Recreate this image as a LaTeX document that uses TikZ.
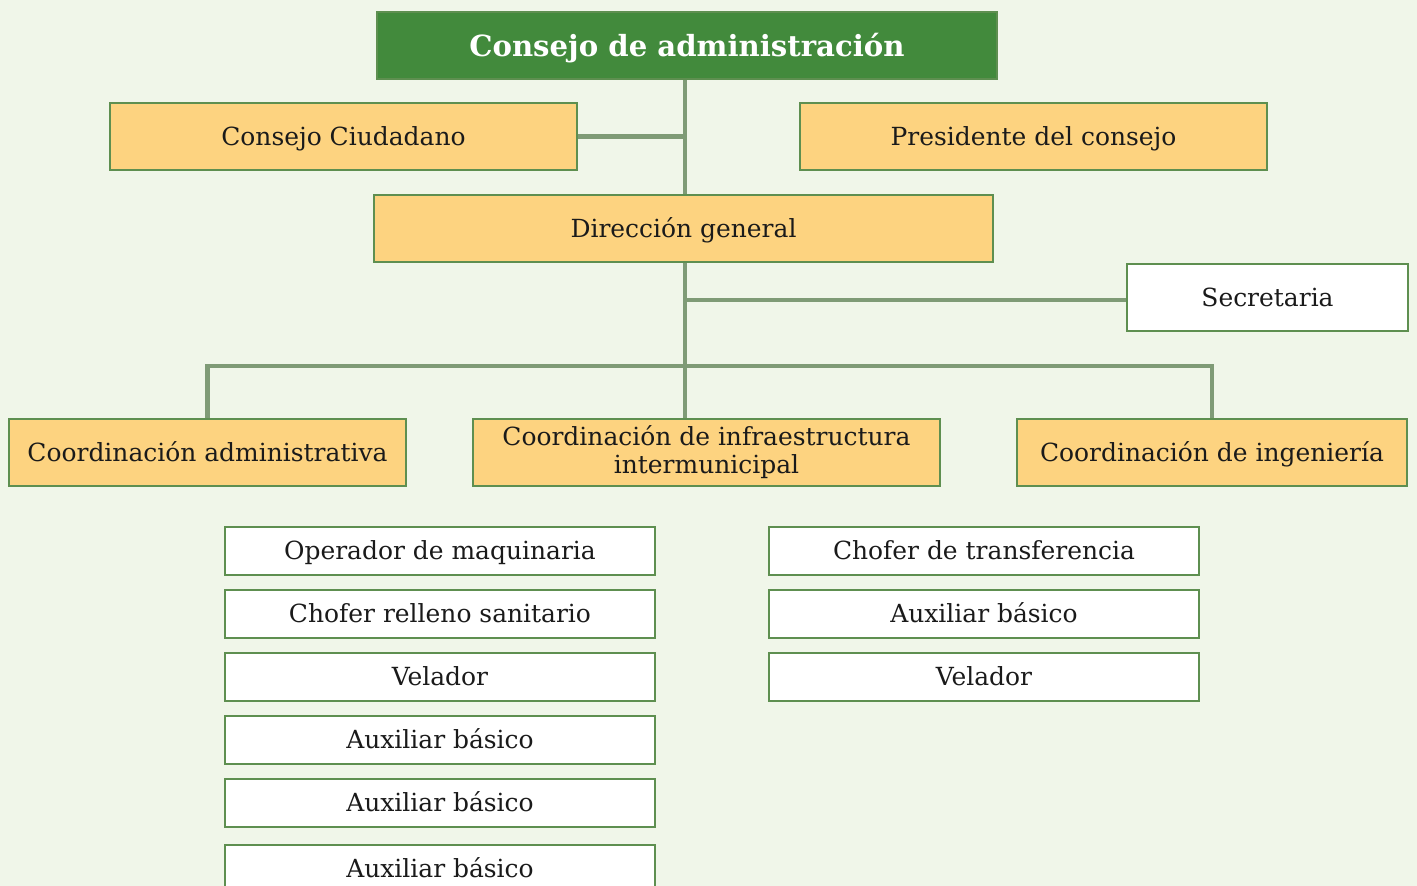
\documentclass[tikz,border=0pt]{standalone}
\usepackage{fontspec}
\setmainfont{DejaVu Serif}
\definecolor{fondo}{HTML}{F0F6E9}
\definecolor{verde}{HTML}{428A3C}
\definecolor{borde}{HTML}{5E8F50}
\definecolor{linea}{HTML}{7F9B76}
\definecolor{amarillo}{HTML}{FDD380}
\definecolor{texto}{HTML}{1A1A1A}
\begin{document}
\begin{tikzpicture}[x=0.02cm, y=-0.02cm,
    renglon/.style ={text height=13pt, text depth=2.8pt},
    consejo/.style ={draw=borde, fill=verde, text=white, line width=0.8pt, minimum height=1.34cm, text height=15pt, text depth=3pt, font=\fontsize{16.6}{19}\selectfont\bfseries},
    area/.style ={draw=borde, fill=amarillo, text=texto, line width=0.8pt, minimum height=1.34cm, font=\fontsize{14.2}{16}\selectfont, align=center},
    puesto/.style ={draw=borde, fill=white, text=texto, line width=0.8pt, minimum width=8.6cm, minimum height=0.96cm, renglon, font=\fontsize{14.2}{16}\selectfont},
    enlace/.style ={draw=linea, line width=2.8pt}]
   \fill[fondo] (0,0) rectangle (1417,886);
   \useasboundingbox (0,0) rectangle (1417,886);
   \node[consejo, minimum width=12.4cm] (CA) at (687,45.5) {Consejo de administración};
   \node[area, renglon, minimum width=9.34cm] (CC) at (343.5,136.5) {Consejo Ciudadano};
   \node[area, renglon, minimum width=9.34cm] (PC) at (1033.5,136.5) {Presidente del consejo};
   \node[area, renglon, minimum width=12.38cm] (DG) at (683.5,228.5) {Dirección general};
   \node[area, renglon, fill=white, minimum width=5.62cm] (SE) at (1267.5,297.5) {Secretaria};
   \node[area, renglon, minimum width=7.94cm] (AD) at (207.5,452.5) {Coordinación administrativa};
   \node[area, minimum width=9.34cm] (IN) at (706.5,452.5) {Coordinación de infraestructura\\intermunicipal};
   \node[area, renglon, minimum width=7.8cm] (IG) at (1212,452.5) {Coordinación de ingeniería};
   \coordinate (hub) at (685,366);
   % puestos
   \node[puesto] (P1) at (440,551) {Operador de maquinaria};
   \node[puesto] (P2) at (440,614) {Chofer relleno sanitario};
   \node[puesto] (P3) at (440,677) {Velador};
   \node[puesto] (P4) at (440,740) {Auxiliar básico};
   \node[puesto] (P5) at (440,803) {Auxiliar básico};
   \node[puesto] (P6) at (440,869) {Auxiliar básico};
   \node[puesto] (Q1) at (984,551) {Chofer de transferencia};
   \node[puesto] (Q2) at (984,614) {Auxiliar básico};
   \node[puesto] (Q3) at (984,677) {Velador};
   % enlaces
   \draw[enlace] (CA.south -| hub) -- (DG.north -| hub);
   \draw[enlace] (DG.south -| hub) -- (hub |- IN.north);
   \draw[enlace] (CC.east) -- (CC.east -| hub);
   \draw[enlace] (SE.west |- 0,300) -- (hub |- 0,300);
   \draw[enlace] (AD.north) |- (hub) -| (IG.north);
\end{tikzpicture}
\end{document}
